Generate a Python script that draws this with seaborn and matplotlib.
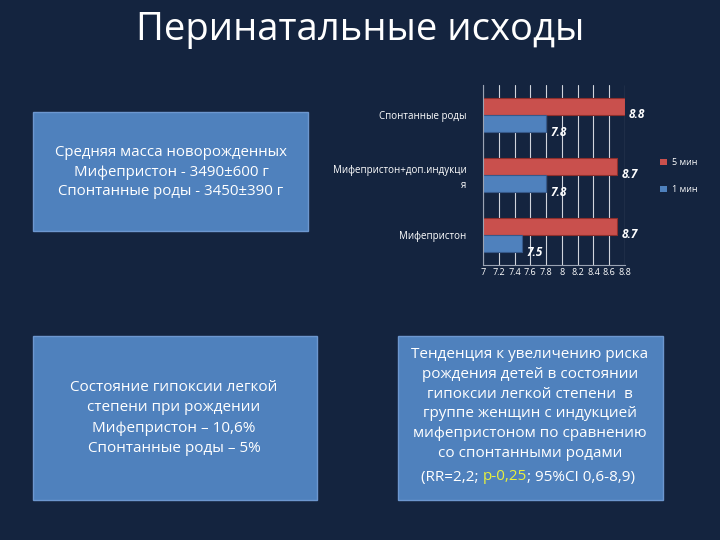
import numpy as np
import pandas as pd
import matplotlib.pyplot as plt
import matplotlib.patches as mpatches
from matplotlib.text import Annotation
import seaborn as sns

# ---- data ----
categories = ["Спонтанные роды", "Мифепристон+доп.индукци\nя", "Мифепристон"]
series_names = ["5 мин", "1 мин"]
apgar_5min = [8.8, 8.7, 8.7]
apgar_1min = [7.8, 7.8, 7.5]
xticks = [7, 7.2, 7.4, 7.6, 7.8, 8, 8.2, 8.4, 8.6, 8.8]
xtick_labels = ["7", "7.2", "7.4", "7.6", "7.8", "8", "8.2", "8.4", "8.6", "8.8"]

title = "Перинатальные исходы"
box1_text = "Средняя масса новорожденных\nМифепристон - 3490±600 г\nСпонтанные роды - 3450±390 г"
box2_text = "Состояние гипоксии легкой\nстепени при рождении\nМифепристон – 10,6%\nСпонтанные роды – 5%"
box3_lines = ("Тенденция к увеличению риска\nрождения детей в состоянии\n"
              "гипоксии легкой степени  в\nгруппе женщин с индукцией\n"
              "мифепристоном по сравнению\nсо спонтанными родами")
box3_last = ["(RR=2,2; ", "p-0,25", "; 95%CI 0,6-8,9)"]

df = pd.DataFrame({
    "group": categories * 2,
    "series": [series_names[0]] * 3 + [series_names[1]] * 3,
    "score": apgar_5min + apgar_1min,
})

BG = "#14243f"
BOX = "#4f81bd"
palette = {"5 мин": "#c9504d", "1 мин": "#4f81bd"}

sns.set_style("white")
plt.rcParams["font.family"] = ["Open Sans", "DejaVu Sans"]

fig = plt.figure(figsize=(7.2, 5.4), dpi=100, facecolor=BG)

W, H = 720, 540
def fx(px):
    return px / W
def fy(py):
    return 1 - py / H

# title
fig.text(0.5, fy(30), title, ha="center", va="center", color="white", fontsize=27.5)

# text boxes
def add_box(x0, y0, x1, y1):
    rect = mpatches.Rectangle((fx(x0), fy(y1)), fx(x1 - x0), (y1 - y0) / H,
                              transform=fig.transFigure, facecolor=BOX,
                              edgecolor="#6d97cf", linewidth=1.0, zorder=1)
    fig.patches.append(rect)

add_box(33, 112, 308, 231)
add_box(33, 336, 317, 500)
add_box(398, 336, 663, 500)

fig.text(fx(171), fy(172), box1_text, ha="center", va="center", color="white",
         fontsize=10.8, linespacing=1.4, zorder=3)
fig.text(fx(174), fy(418), box2_text, ha="center", va="center", color="white",
         fontsize=11, linespacing=1.5, zorder=3)
fig.text(fx(530), fy(404), box3_lines, ha="center", va="center", color="white",
         fontsize=11, linespacing=1.45, zorder=3)

# chart
ax = fig.add_axes([fx(483), fy(265), fx(142), 180 / H])
ax.set_facecolor("none")
sns.barplot(data=df, y="group", x="score", hue="series", hue_order=series_names,
            order=categories, orient="h", palette=palette, saturation=1,
            width=0.57, ax=ax, linewidth=0)

for container, dark in zip(ax.containers, ["#8e2f2c", "#36598a"]):
    for bar in container:
        bar.set_edgecolor(dark)
        bar.set_linewidth(0.8)
        w = bar.get_width()
        ax.annotate(f"{w:.1f}", xy=(w, bar.get_y() + bar.get_height()),
                    xytext=(3, 0), textcoords="offset points", ha="left",
                    va="center", color="white", fontsize=8.5, fontweight="bold",
                    fontstyle="italic", annotation_clip=False)

ax.set_xlim(7, 8.8)
ax.set_ylim(2.5, -0.5)
ax.set_xticks(xticks)
ax.set_xticklabels(xtick_labels)
ax.set_xlabel("")
ax.set_ylabel("")
ax.grid(axis="x", color="#d0d4dc", linewidth=0.8)
ax.set_axisbelow(True)
ax.tick_params(axis="x", colors="white", labelsize=6.5, length=0, pad=2)
ax.tick_params(axis="y", colors="white", labelsize=7, length=0, pad=12)
ax.set_yticks([-0.5, 0.5, 1.5, 2.5], minor=True)
ax.tick_params(axis="y", which="minor", length=4, color="#9aa3b3")
for lab in ax.get_yticklabels():
    lab.set_linespacing(1.5)
for side in ["top", "right"]:
    ax.spines[side].set_visible(False)
ax.spines["left"].set_color("#9aa3b3")
ax.spines["bottom"].set_color("#9aa3b3")

ax.legend(loc="upper left", bbox_to_anchor=(fx(652), fy(150)),
          bbox_transform=fig.transFigure, frameon=False, fontsize=6.5,
          labelcolor="white", handlelength=0.8, handleheight=0.8,
          handletextpad=0.5, labelspacing=2.0)

# last line of the right box: yellow p-value between white parts
mid = fig.text(fx(505), fy(477), box3_last[1], ha="center", va="center",
               color="#e8f03c", fontsize=11, zorder=3)
for txt, anchor, ha in [(box3_last[0], (0, 0), "right"), (box3_last[2], (1, 0), "left")]:
    part = Annotation(txt, xy=anchor, xycoords=mid, ha=ha, va="bottom",
                      color="white", fontsize=11, zorder=3)
    fig.add_artist(part)

fig.savefig("out.png", dpi=100, facecolor=BG)
